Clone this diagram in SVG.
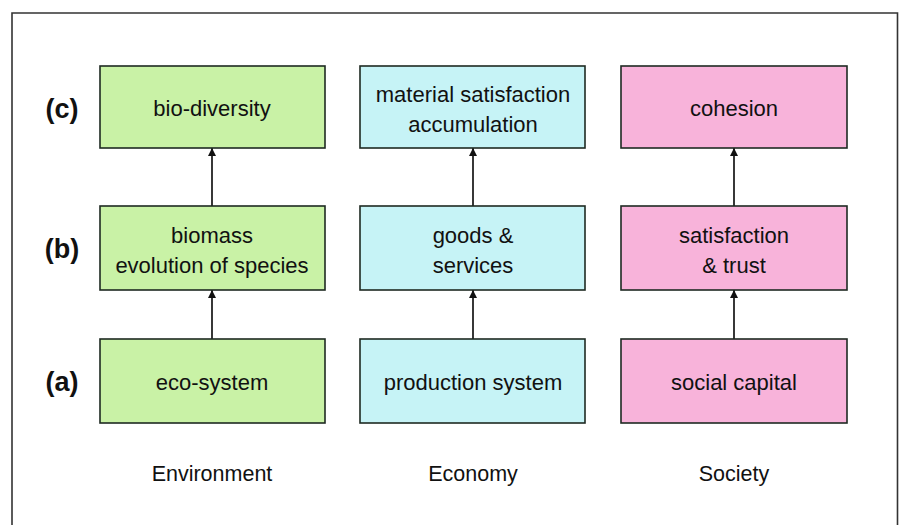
<svg xmlns="http://www.w3.org/2000/svg" width="901" height="525" viewBox="0 0 901 525">
<defs>
<style>
.frame{fill:none;stroke:#333;stroke-width:1.6}
.box{stroke:#1e2a22;stroke-width:1.6}
.env{fill:#c9f2a6}
.eco{fill:#c6f3f6}
.soc{fill:#f8b3da}
.t{font-family:"Liberation Sans",Arial,sans-serif;font-size:22px;fill:#111;text-anchor:middle}
.row{font-family:"Liberation Sans",Arial,sans-serif;font-size:27px;font-weight:bold;fill:#111;text-anchor:middle}
.col{font-family:"Liberation Sans",Arial,sans-serif;font-size:21.5px;fill:#111;text-anchor:middle}
.arr{stroke:#222;stroke-width:1.8;fill:none;marker-end:url(#ah)}
</style>
<marker id="ah" viewBox="0 0 8 10" refX="8" refY="5" markerWidth="8" markerHeight="10" markerUnits="userSpaceOnUse" orient="auto">
<path d="M0,1 L8,5 L0,9 Z" fill="#111"/>
</marker>
</defs>
<rect width="901" height="525" fill="#fff"/>
<path class="frame" d="M12,530 V13 H897.5 V530"/>
<g id="row-labels">
<text class="row" x="62" y="118">(c)</text>
<text class="row" x="62" y="258">(b)</text>
<text class="row" x="62" y="391">(a)</text>
</g>
<g id="connectors">
<line class="arr" x1="212" y1="339" x2="212" y2="290"/>
<line class="arr" x1="212" y1="206" x2="212" y2="148"/>
<line class="arr" x1="473" y1="339" x2="473" y2="290"/>
<line class="arr" x1="473" y1="206" x2="473" y2="148"/>
<line class="arr" x1="734" y1="339" x2="734" y2="290"/>
<line class="arr" x1="734" y1="206" x2="734" y2="148"/>
</g>
<g id="bio-diversity">
<rect class="box env" x="100" y="66" width="225" height="82"/>
<text class="t" x="212" y="116">bio-diversity</text>
</g>
<g id="biomass">
<rect class="box env" x="100" y="206" width="225" height="84"/>
<text class="t" x="212" y="243">biomass</text>
<text class="t" x="212" y="273">evolution of species</text>
</g>
<g id="eco-system">
<rect class="box env" x="100" y="339" width="225" height="84"/>
<text class="t" x="212" y="390">eco-system</text>
</g>
<g id="material-satisfaction">
<rect class="box eco" x="360" y="66" width="225" height="82"/>
<text class="t" x="473" y="102">material satisfaction</text>
<text class="t" x="473" y="132">accumulation</text>
</g>
<g id="goods-services">
<rect class="box eco" x="360" y="206" width="225" height="84"/>
<text class="t" x="473" y="243">goods &amp;</text>
<text class="t" x="473" y="273">services</text>
</g>
<g id="production-system">
<rect class="box eco" x="360" y="339" width="225" height="84"/>
<text class="t" x="473" y="390">production system</text>
</g>
<g id="cohesion">
<rect class="box soc" x="621" y="66" width="226" height="82"/>
<text class="t" x="734" y="116">cohesion</text>
</g>
<g id="satisfaction-trust">
<rect class="box soc" x="621" y="206" width="226" height="84"/>
<text class="t" x="734" y="243">satisfaction</text>
<text class="t" x="734" y="273">&amp; trust</text>
</g>
<g id="social-capital">
<rect class="box soc" x="621" y="339" width="226" height="84"/>
<text class="t" x="734" y="390">social capital</text>
</g>
<g id="column-labels">
<text class="col" x="212" y="481">Environment</text>
<text class="col" x="473" y="481">Economy</text>
<text class="col" x="734" y="481">Society</text>
</g>
</svg>
